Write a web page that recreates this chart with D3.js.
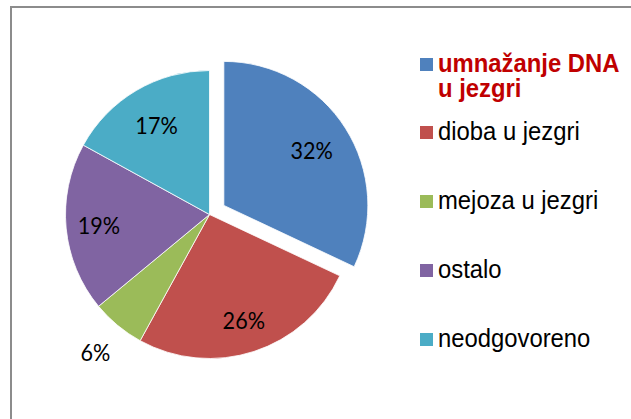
<!DOCTYPE html>
<html><head><meta charset="utf-8">
<script src="https://cdn.jsdelivr.net/npm/d3@7"></script>
<style>body{margin:0;background:#fff}svg{display:block}</style>
</head><body>
<script>
const categories = ["umnažanje DNA u jezgri", "dioba u jezgri", "mejoza u jezgri", "ostalo", "neodgovoreno"];
const values = [32, 26, 6, 19, 17];
const labels = ["32%", "26%", "6%", "19%", "17%"];
const colors = ["#4F81BD", "#C0504D", "#9BBB59", "#8064A2", "#4BACC6"];
const legendLines = [["umnažanje DNA", "u jezgri"], ["dioba u jezgri"], ["mejoza u jezgri"], ["ostalo"], ["neodgovoreno"]];

const W = 631, H = 419;
const svg = d3.select("body").append("svg").attr("width", W).attr("height", H);

svg.append("path").attr("d", `M11,${H+5} L11,7 L${W+5},7`).attr("fill","none").attr("stroke","#8c8c8c").attr("stroke-width",2);

const cx = 209.5, cy = 214.5, R = 144, explode = 17;
const pie = d3.pie().sort(null).value(d => d)(values);
const arc = d3.arc().innerRadius(0).outerRadius(R);
const g = svg.append("g").attr("transform", `translate(${cx},${cy})`);

pie.forEach((p, i) => {
  const mid = (p.startAngle + p.endAngle) / 2;
  const off = i === 0 ? explode : 0;
  const dx = Math.sin(mid) * off, dy = -Math.cos(mid) * off;
  const sg = g.append("g").attr("transform", `translate(${dx},${dy})`);
  sg.append("path").attr("d", arc(p)).attr("fill", colors[i]).attr("stroke", "#fff").attr("stroke-width", 0.8);
  let lr = i === 2 ? 179 : (i === 1 || i === 3 ? 111 : 104);
  const tx = Math.sin(mid) * lr, ty = -Math.cos(mid) * lr;
  sg.append("text")
    .attr("transform", `translate(${tx},${ty}) scale(0.92,1)`)
    .attr("text-anchor", "middle").attr("dominant-baseline", "central")
    .attr("font-family", "Lato, 'Open Sans', sans-serif").attr("font-size", 23.5)
    .attr("fill", "#000").text(labels[i]);
});

const sqTops = [58, 126, 195, 264, 333];
const lg = svg.append("g");
categories.forEach((c, i) => {
  lg.append("rect").attr("x", 420).attr("y", sqTops[i]).attr("width", 13).attr("height", 13).attr("fill", colors[i]);
  const t = lg.append("text").attr("transform", `translate(438,${sqTops[i] + 14}) scale(0.9,1)`)
    .attr("font-family", "'Liberation Sans', Arial, sans-serif").attr("font-size", 26.5)
    .attr("fill", i === 0 ? "#C00000" : "#000").attr("font-weight", i === 0 ? "bold" : "normal");
  legendLines[i].forEach((l, j) => {
    t.append("tspan").attr("x", 0).attr("dy", j === 0 ? 0 : 25).text(l);
  });
});
</script>
</body></html>
